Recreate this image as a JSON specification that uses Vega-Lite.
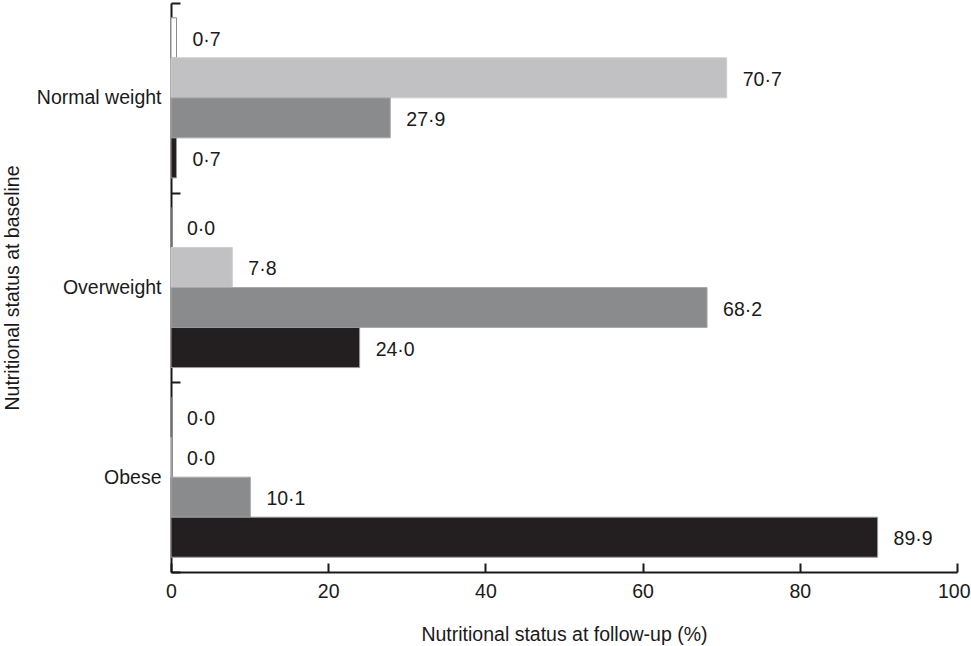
{
  "$schema": "https://vega.github.io/schema/vega-lite/v6.json",
  "width": 786,
  "height": 569,
  "autosize": "none",
  "padding": {"left": 171, "top": 3, "right": 14, "bottom": 74},
  "background": "white",
  "config": {
    "view": {"stroke": null},
    "font": "Liberation Sans",
    "locale": {"number": {"decimal": "·", "thousands": ",", "grouping": [3], "currency": ["", ""]}}
  },
  "data": {
    "values": [
      {"baseline": "Normal weight", "followup": "Underweight", "value": 0.7},
      {"baseline": "Normal weight", "followup": "Normal weight", "value": 70.7},
      {"baseline": "Normal weight", "followup": "Overweight", "value": 27.9},
      {"baseline": "Normal weight", "followup": "Obese", "value": 0.7},
      {"baseline": "Overweight", "followup": "Underweight", "value": 0.0},
      {"baseline": "Overweight", "followup": "Normal weight", "value": 7.8},
      {"baseline": "Overweight", "followup": "Overweight", "value": 68.2},
      {"baseline": "Overweight", "followup": "Obese", "value": 24.0},
      {"baseline": "Obese", "followup": "Underweight", "value": 0.0},
      {"baseline": "Obese", "followup": "Normal weight", "value": 0.0},
      {"baseline": "Obese", "followup": "Overweight", "value": 10.1},
      {"baseline": "Obese", "followup": "Obese", "value": 89.9}
    ]
  },
  "encoding": {
    "y": {
      "field": "baseline",
      "type": "nominal",
      "sort": ["Normal weight", "Overweight", "Obese"],
      "scale": {"paddingInner": 0, "paddingOuter": 0},
      "axis": {
        "title": "Nutritional status at baseline",
        "titleFont": "Liberation Sans",
        "titleFontSize": 19.5,
        "titleFontWeight": "normal",
        "titleColor": "#1a1a1a",
        "titleX": -159,
        "titleY": 284.5,
        "titleBaseline": "middle",
        "titleAngle": -90,
        "labelFont": "Liberation Sans",
        "labelFontSize": 19.5,
        "labelColor": "#1a1a1a",
        "labelPadding": 19,
        "tickBand": "extent",
        "tickSize": -9,
        "tickWidth": 2,
        "tickColor": "#1a1a1a",
        "domainColor": "#1a1a1a",
        "domainWidth": 2
      }
    },
    "yOffset": {
      "field": "followup",
      "type": "nominal",
      "sort": ["Underweight", "Normal weight", "Overweight", "Obese"],
      "scale": {"paddingInner": 0, "paddingOuter": 0.369}
    },
    "x": {
      "field": "value",
      "type": "quantitative",
      "scale": {"domain": [0, 100], "nice": false},
      "axis": {
        "values": [0, 20, 40, 60, 80, 100],
        "format": "d",
        "grid": false,
        "title": "Nutritional status at follow-up (%)",
        "titleFont": "Liberation Sans",
        "titleFontSize": 19.5,
        "titleFontWeight": "normal",
        "titleColor": "#1a1a1a",
        "titleY": 62,
        "titleBaseline": "middle",
        "labelFont": "Liberation Sans",
        "labelFontSize": 19.5,
        "labelColor": "#1a1a1a",
        "labelPadding": 19,
        "labelFlush": false,
        "labelAlign": {"condition": {"test": "datum.value == 100", "value": "right"}, "value": "center"},
        "labelOffset": {"condition": {"test": "datum.value == 100", "value": 13}, "value": 0},
        "tickSize": -9,
        "tickWidth": 2,
        "tickColor": "#1a1a1a",
        "domainColor": "#1a1a1a",
        "domainWidth": 2
      }
    }
  },
  "layer": [
    {
      "mark": {"type": "bar", "strokeWidth": 1},
      "encoding": {
        "fill": {
          "field": "followup",
          "type": "nominal",
          "scale": {
            "domain": ["Underweight", "Normal weight", "Overweight", "Obese"],
            "range": ["#ffffff", "#c1c1c4", "#8a8b8d", "#231f20"]
          },
          "legend": null
        },
        "stroke": {
          "field": "followup",
          "type": "nominal",
          "scale": {
            "domain": ["Underweight", "Normal weight", "Overweight", "Obese"],
            "range": ["#8c8c8c", "#cdcdcf", "#a9aaac", "#9a9a9a"]
          },
          "legend": null
        }
      }
    },
    {
      "mark": {"type": "text", "align": "left", "baseline": "middle", "dx": 16, "dy": 2, "fontSize": 19.5, "font": "Liberation Sans", "color": "#1a1a1a"},
      "encoding": {
        "text": {"field": "value", "type": "quantitative", "format": ".1f"}
      }
    }
  ]
}
